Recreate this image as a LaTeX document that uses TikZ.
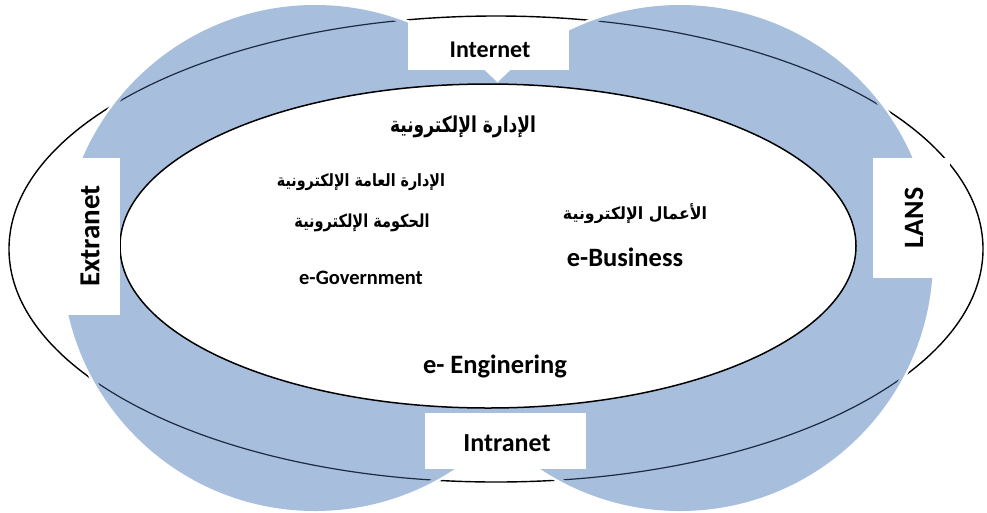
\documentclass[tikz,border=0pt]{standalone}
\usepackage{fontspec}
\setmainfont{Carlito}
\newfontfamily\arabicfont[Script=Arabic]{DejaVu Sans}
\TeXXeTstate=1
\definecolor{blobblue}{RGB}{167,191,221}
\definecolor{navyline}{RGB}{28,42,66}
\begin{document}
\begin{tikzpicture}[x=1pt,y=-1pt,
  whitebox/.style={fill=white, draw=none, inner sep=0pt},
  lbl/.style={inner sep=0pt, font=\bfseries},
  arlbl/.style={inner sep=0pt, font=\arabicfont\bfseries}]
\useasboundingbox (0,0) rectangle (987,512);
\fill[white] (0,0) rectangle (987,512);
% outer ellipse
\draw[line width=1.4pt] (496,249) ellipse [x radius=487pt, y radius=233pt];
% white halo of the blobs (breaks the black line)
\draw[white, line width=5pt] (315,258) circle [radius=253pt];
\draw[white, line width=5pt] (680,258) circle [radius=253pt];
% blue blobs
\fill[blobblue] (315,258) circle [radius=253pt];
\fill[blobblue] (680,258) circle [radius=253pt];
% outer ellipse seen through the blobs
\begin{scope}
  \clip (315,258) circle [radius=250pt] (680,258) circle [radius=250pt];
  \draw[navyline, line width=1.2pt] (496,249) ellipse [x radius=487pt, y radius=233pt];
\end{scope}
% inner ellipse
\filldraw[fill=white, draw=black, line width=1.5pt] (488,246) ellipse [x radius=368pt, y radius=162pt];
% label boxes
\node[whitebox, minimum width=161pt, minimum height=48pt] (internetbox) at (488.5,46) {};
\node[whitebox, minimum width=161pt, minimum height=56pt] (intranetbox) at (505.5,441) {};
\node[whitebox, minimum width=62pt, minimum height=157pt] (extranetbox) at (89,236.5) {};
\node[whitebox, minimum width=77pt, minimum height=120pt] (lansbox) at (911.5,218) {};
% labels
\node[lbl, font=\bfseries\fontsize{24}{28}\selectfont] (internet) at (490,50) {Internet};
\node[lbl, font=\bfseries\fontsize{26}{30}\selectfont] (intranet) at (507,443) {Intranet};
\node[lbl, font=\bfseries\fontsize{29}{33}\selectfont, rotate=90] (extranet) at (90,236) {Extranet};
\node[lbl, font=\bfseries\fontsize{28}{32}\selectfont, rotate=90] (lans) at (914,218) {LANS};
\node[lbl, font=\bfseries\fontsize{20.5}{24}\selectfont] (egov) at (361,278) {e-Government};
\node[lbl, font=\bfseries\fontsize{26.5}{30}\selectfont] (ebus) at (625,257) {e-Business};
\node[lbl, font=\bfseries\fontsize{26.5}{30}\selectfont] (eeng) at (495,366) {e- Enginering};
\node[arlbl] (edara) at (463,127) {\resizebox*{146pt}{22pt}{\beginR الإدارة الإلكترونية\endR}};
\node[arlbl] (edaraamma) at (361,182) {\resizebox*{168pt}{17pt}{\beginR الإدارة العامة الإلكترونية\endR}};
\node[arlbl] (hukuma) at (362,223) {\resizebox*{135pt}{18pt}{\beginR الحكومة الإلكترونية\endR}};
\node[arlbl] (aamal) at (635,214) {\resizebox*{144pt}{20pt}{\beginR الأعمال الإلكترونية\endR}};
\end{tikzpicture}
\end{document}
